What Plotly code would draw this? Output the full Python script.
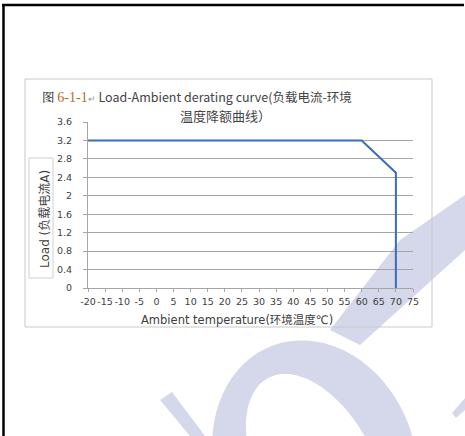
import plotly.graph_objects as go
import math

# ---- data ----
temperature = [-20, 60, 70, 70]
load_current = [3.2, 3.2, 2.5, 0]
x_ticks = list(range(-20, 80, 5))
y_ticks = [0, 0.4, 0.8, 1.2, 1.6, 2, 2.4, 2.8, 3.2, 3.6]

W, H = 465, 436

def px(x):
    return x / W

def py(y):
    return 1 - y / H

def poly_path(pts):
    return "M " + " L ".join(f"{px(x):.5f},{py(y):.5f}" for x, y in pts) + " Z"

def ellipse_pts(cx, cy, rx, ry, rot_deg, n=72):
    r = math.radians(rot_deg)
    pts = []
    for i in range(n):
        t = 2 * math.pi * i / n
        ex, ey = rx * math.cos(t), ry * math.sin(t)
        pts.append((cx + ex * math.cos(r) - ey * math.sin(r),
                    cy + ex * math.sin(r) + ey * math.cos(r)))
    return pts

WM = "#d5d7eb"
shapes = []
# watermark (decoration)
shapes.append(dict(type="path", xref="paper", yref="paper", layer="below",
                   path=poly_path(ellipse_pts(315, 460, 100, 122, -20)),
                   fillcolor=WM, line=dict(width=0)))
shapes.append(dict(type="path", xref="paper", yref="paper", layer="below",
                   path=poly_path(ellipse_pts(316, 468, 58, 102, -28)),
                   fillcolor="white", line=dict(width=0)))
shapes.append(dict(type="path", xref="paper", yref="paper", layer="below",
                   path=poly_path([(160, 400), (172, 392), (205, 436), (190, 436)]),
                   fillcolor=WM, line=dict(width=0)))
shapes.append(dict(type="path", xref="paper", yref="paper", layer="below",
                   path=poly_path([(465, 195), (465, 250), (360, 345), (330, 330), (400, 240)]),
                   fillcolor=WM, line=dict(width=0)))
shapes.append(dict(type="path", xref="paper", yref="paper", layer="below",
                   path=poly_path([(465, 398), (465, 410), (456, 418), (452, 413)]),
                   fillcolor=WM, line=dict(width=0)))

# outer black border (top and left)
shapes.append(dict(type="line", xref="paper", yref="paper", x0=px(3.5), x1=px(3.5), y0=0, y1=py(4),
                   line=dict(color="black", width=2.5)))
shapes.append(dict(type="line", xref="paper", yref="paper", x0=px(2), x1=px(464), y0=py(5), y1=py(5),
                   line=dict(color="black", width=2.5)))
# chart box
shapes.append(dict(type="rect", xref="paper", yref="paper", x0=px(25), x1=px(432), y0=py(327), y1=py(79),
                   line=dict(color="#c9c9c9", width=1), fillcolor="rgba(0,0,0,0)"))
# y-title box
shapes.append(dict(type="rect", xref="paper", yref="paper", x0=px(29), x1=px(53), y0=py(278), y1=py(158),
                   line=dict(color="#d0d0d0", width=1), fillcolor="white"))

fig = go.Figure()
fig.add_trace(go.Scatter(x=temperature, y=load_current, mode="lines",
                         line=dict(color="#3a6db5", width=2), hoverinfo="skip",
                         showlegend=False))

tick_font = dict(family="DejaVu Sans", size=9.5, color="#404040")
fig.update_layout(
    width=W, height=H, autosize=False,
    margin=dict(l=0, r=0, t=0, b=0, pad=0, autoexpand=False),
    paper_bgcolor="white", plot_bgcolor="rgba(0,0,0,0)",
    showlegend=False,
    shapes=shapes,
    xaxis=dict(domain=[px(88), px(413)], range=[-20, 75], tickmode="array", automargin=False,
               tickvals=x_ticks, ticktext=[str(v) for v in x_ticks],
               showgrid=False, zeroline=False, showline=True, linecolor="#a6a6a6", linewidth=1,
               ticks="outside", ticklen=3, tickcolor="#a6a6a6", tickfont=tick_font, tickangle=0,
               ticklabelstandoff=2),
    yaxis=dict(domain=[py(288), py(122)], range=[0, 3.6], tickmode="array", automargin=False,
               tickvals=y_ticks, ticktext=[f"{v:g}" for v in y_ticks],
               showgrid=True, gridcolor="#a6a6a6", gridwidth=1, zeroline=False,
               showline=True, linecolor="#a6a6a6", linewidth=1,
               ticks="outside", ticklen=4, tickcolor="#a6a6a6", tickfont=tick_font, ticklabelstandoff=9),
    annotations=[
        dict(xref="paper", yref="paper", x=px(40), y=py(97), xanchor="left", yanchor="middle",
             showarrow=False,
             text="<span style='font-family:\"Noto Serif CJK SC\",\"Noto Sans CJK SC\";color:#222'>图</span> "
                  "<span style='font-family:\"Liberation Serif\";color:#b86b1e;font-size:14px'>6-1-1</span>"
                  "<span style='color:#999;font-size:9px'>\u21b5</span> "
                  "Load-Ambient derating curve(负载电流-环境",
             font=dict(family="Noto Sans CJK SC", size=12.5, color="#444444")),
        dict(xref="paper", yref="paper", x=px(225), y=py(115), xanchor="center", yanchor="middle",
             showarrow=False, text="温度降额曲线）",
             font=dict(family="Noto Sans CJK SC", size=13, color="#444444")),
        dict(xref="paper", yref="paper", x=px(237), y=py(320), xanchor="center", yanchor="middle",
             showarrow=False, text="Ambient temperature(环境温度℃)",
             font=dict(family="DejaVu Sans, Noto Sans CJK SC", size=11.5, color="#404040")),
        dict(xref="paper", yref="paper", x=px(45), y=py(219), xanchor="center", yanchor="middle",
             showarrow=False, text="Load (负载电流A)", textangle=-90,
             font=dict(family="DejaVu Sans, Noto Sans CJK SC", size=12, color="#404040")),
    ],
)

fig.write_html("out.html", config={"displayModeBar": False},
               post_script="document.body.style.margin='0';document.body.style.overflow='hidden';")
